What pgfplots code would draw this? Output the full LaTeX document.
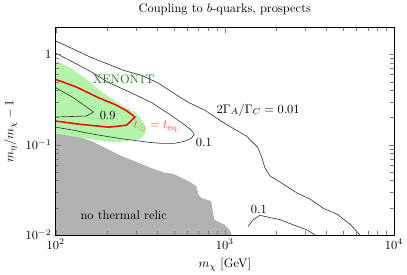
\documentclass[border=0pt]{standalone}
\usepackage{pgfplots}
\pgfplotsset{compat=1.18}
\definecolor{xgreen}{RGB}{178,245,170}
\definecolor{xdark}{RGB}{45,115,45}
\definecolor{relic}{RGB}{178,178,178}
\definecolor{tred}{RGB}{255,80,80}
\begin{document}
\begin{tikzpicture}
\begin{axis}[
  scale only axis, width=272pt, height=167pt,
  xmode=log, ymode=log,
  xmin=100, xmax=10000, ymin=0.01, ymax=2,
  xtick={100,1000,10000},
  ytick={0.01,0.1,1},
  yticklabels={$10^{-2}$,$10^{-1}$,$1$},
  tick align=inside,
  axis on top,
  title={Coupling to $b$-quarks, prospects},
  xlabel={$m_\chi$ [GeV]},
  ylabel={$m_\eta/m_\chi-1$},
]
% no thermal relic
\addplot[fill=relic, draw=none] coordinates {
(100,0.01) (100,0.1330) (105.9,0.1386) (121.5,0.1350) (139.4,0.1218) (167.3,0.1070)
(200.8,0.0902) (241.3,0.0758) (303.2,0.0638) (381.2,0.0537) (437.4,0.0492) (501.9,0.0472)
(575.4,0.0415) (631.0,0.0380) (675.8,0.0349) (690.8,0.0307) (697.5,0.0281) (723.9,0.0258)
(830.2,0.0237) (848.7,0.0183) (868.7,0.01474) (996.6,0.01296) (1067.4,0.01138) (1097,0.01)
} -- cycle;
% XENON1T
\addplot[fill=xgreen, draw=none] coordinates {
(100,0.8409) (118.7,0.739) (152.0,0.528) (186.7,0.3869) (226.4,0.2987) (297.8,0.2247)
(323.4,0.1875) (341.7,0.1525) (337.0,0.1306) (310.3,0.1147) (226.4,0.1061) (179.2,0.1118)
(136.2,0.1208) (100,0.1330)
} -- cycle;
% 2 Gamma_A/Gamma_C = 0.01
\addplot[black!80, line width=0.5pt] coordinates {
(100,1.411) (127.2,1.147) (160.6,0.933) (205.6,0.778) (252.6,0.666) (323.4,0.5855)
(408.3,0.476) (537.6,0.340) (616.5,0.2911) (757.5,0.2429) (969.6,0.1781) (1348,0.1240)
(1567,0.0933) (1656,0.0720) (1726,0.0556) (1849,0.0452) (2210,0.0367) (2677,0.0291)
(3201,0.0249) (3826,0.0197) (4636,0.0169) (5542,0.0130) (6300,0.0100)
};
% 0.1 contour (upper)
\addplot[black!80, line width=0.5pt] coordinates {
(100,1.034) (127.2,0.819) (160.6,0.649) (205.6,0.4885) (270.6,0.3869) (370.9,0.2911)
(468.5,0.2190) (560.2,0.1735) (633.6,0.1448) (660.3,0.1306) (633.6,0.1177) (575.4,0.1089)
(501.9,0.1034) (425.5,0.1034) (355.9,0.1061) (235.8,0.1177) (167.3,0.1306) (127.2,0.1448)
(100,0.1564)
};
% 0.9 contour
\addplot[black!80, line width=0.5pt] coordinates {
(100,0.4292) (127.2,0.3313) (167.3,0.2307) (152.0,0.2080) (100,0.2026)
};
% t_sun = t_eq
\addplot[red, line width=1.2pt] coordinates {
(100,0.528) (130.7,0.4404) (179.2,0.3313) (226.4,0.2764) (263.3,0.2367) (293.8,0.2026)
(263.3,0.1648) (205.6,0.1564) (136.2,0.1691) (100,0.1828)
};
% 0.1 contour (lower right)
\addplot[black!80, line width=0.5pt] coordinates {
(1372,0.0124) (1470,0.01474) (1612,0.0165) (1774,0.01585) (2121,0.01474) (2535,0.01296)
(3059,0.01138) (3428,0.0100)
};
\node[text=xdark] at (axis cs:252,0.528) {XENON1T};
\node at (axis cs:203,0.213) {0.9};
\node[text=tred] at (axis cs:398,0.1577) {$t_\odot = t_{\rm eq.}$};
\node at (axis cs:752,0.1061) {0.1};
\node at (axis cs:1574,0.2429) {$2\Gamma_A/\Gamma_C = 0.01$};
\node at (axis cs:1589,0.0191) {0.1};
\node at (axis cs:252.6,0.0165) {no thermal relic};
\end{axis}
\end{tikzpicture}
\end{document}
